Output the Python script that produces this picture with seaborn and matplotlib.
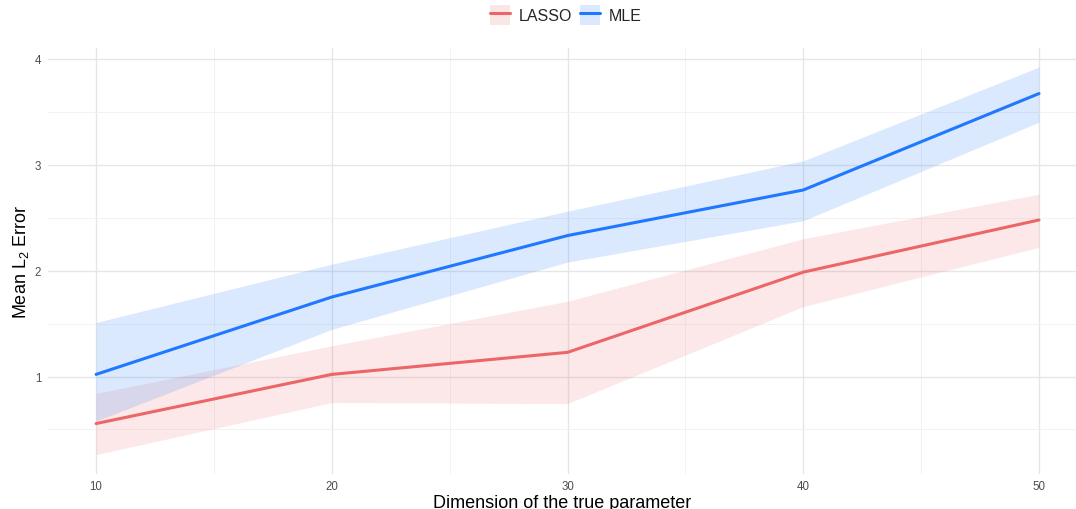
import numpy as np
import pandas as pd
import matplotlib
matplotlib.use("Agg")
import matplotlib.pyplot as plt
from matplotlib.patches import Patch
from matplotlib.lines import Line2D
import seaborn as sns

dims = [10, 20, 30, 40, 50]
lasso_mean = [0.556, 1.02, 1.228, 1.985, 2.477]
lasso_low = [0.263, 0.755, 0.745, 1.66, 2.22]
lasso_high = [0.84, 1.29, 1.71, 2.30, 2.72]
mle_mean = [1.02, 1.75, 2.33, 2.76, 3.67]
mle_low = [0.58, 1.445, 2.08, 2.47, 3.40]
mle_high = [1.51, 2.06, 2.56, 3.035, 3.92]
methods = ["LASSO", "MLE"]
colors = {"LASSO": "#EC6668", "MLE": "#1F78FF"}

sns.set_theme(style="white")
plt.rcParams["font.family"] = ["Liberation Sans", "DejaVu Sans"]

df = pd.DataFrame({
    "dim": dims * 2,
    "err": lasso_mean + mle_mean,
    "method": ["LASSO"] * 5 + ["MLE"] * 5,
})

fig = plt.figure(figsize=(10.76, 5.10), dpi=100)
ax = fig.add_axes([48 / 1076, 1 - 475 / 510, 1 - 48 / 1076, (475 - 49) / 510])

ax.fill_between(dims, lasso_low, lasso_high, color=colors["LASSO"], alpha=0.15, lw=0, zorder=2)
ax.fill_between(dims, mle_low, mle_high, color=colors["MLE"], alpha=0.16, lw=0, zorder=2)
sns.lineplot(data=df, x="dim", y="err", hue="method", palette=colors, lw=2.2,
             ax=ax, legend=False, zorder=3)

ax.set_xlim(7.96, 51.57)
ax.set_ylim(0.08, 4.10)
ax.set_xticks([10, 20, 30, 40, 50])
ax.set_xticks([15, 25, 35, 45], minor=True)
ax.set_yticks([1, 2, 3, 4])
ax.set_yticks([0.5, 1.5, 2.5, 3.5], minor=True)
ax.set_xticklabels(["10", "20", "30", "40", "50"])
ax.set_yticklabels(["1", "2", "3", "4"])
ax.grid(which="major", color="#E6E6E6", lw=1.0, zorder=0)
ax.grid(which="minor", color="#F0F0F0", lw=0.6, zorder=0)
ax.set_axisbelow(True)
for s in ax.spines.values():
    s.set_visible(False)
ax.tick_params(axis="both", which="both", length=0, labelsize=8.3, labelcolor="#4D4D4D")
ax.tick_params(axis="x", pad=4.0)
ax.tick_params(axis="y", pad=5)
ax.set_xlabel("Dimension of the true parameter", fontsize=13, color="black")
ax.set_ylabel(r"Mean $\mathregular{L_2}$ Error", fontsize=13, color="black")
ax.xaxis.set_label_coords(0.5, -(495 - 475) / 426)
ax.yaxis.set_label_coords((31 - 48) / 1028, 0.5)

handles = [(Patch(facecolor=colors[m], alpha=0.16, lw=0), Line2D([], [], color=colors[m], lw=2.2))
           for m in methods]
fig.legend(handles, methods, loc="center", bbox_to_anchor=(566 / 1076, 1 - 16 / 510), ncol=2,
           frameon=False, fontsize=11.5, handlelength=1.25, handleheight=1.5, columnspacing=0.5,
           handletextpad=0.55)

fig.savefig("out.png", dpi=100)
